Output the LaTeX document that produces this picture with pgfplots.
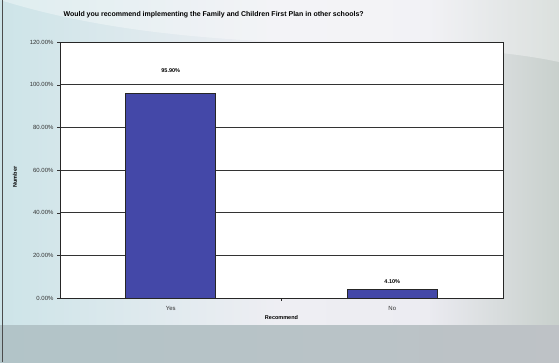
\documentclass[border=0pt]{standalone}
\usepackage{pgfplots}
\pgfplotsset{compat=1.18}
\usepackage{fontspec}
\setmainfont{Liberation Sans}
\definecolor{barblue}{RGB}{68,72,168}
\definecolor{bgleft}{RGB}{205,228,232}
\definecolor{bgmid}{RGB}{234,234,240}
\definecolor{bgright}{RGB}{200,208,204}
\definecolor{bandleft}{RGB}{178,196,200}
\definecolor{bandright}{RGB}{190,194,198}
\begin{document}
\begin{tikzpicture}[x=1pt,y=1pt]
\useasboundingbox (0,0) rectangle (559,362);
\shade[left color=bgleft, right color=bgmid, middle color=bgmid!80!white] (0,0) rectangle (559,362);
\shade[left color=bgmid, right color=bgright] (430,37) rectangle (559,362);
\fill[white, opacity=0.35] (0,362) .. controls (200,300) and (420,330) .. (559,300) -- (559,362) -- cycle;
\shade[left color=bandleft, right color=bandright] (0,0) rectangle (559,37);
\draw[black!70, line width=1pt] (2.5,0) -- (2.5,362);
\node[font=\fontsize{7}{8}\selectfont\bfseries, anchor=west] at (60,347) {Would you recommend implementing the Family and Children First Plan in other schools?};
\node[font=\fontsize{5.5}{6}\selectfont\bfseries, rotate=90] at (15,185) {Number};
\begin{axis}[
  at={(60pt,64pt)}, anchor=south west,
  width=443pt, height=256pt, scale only axis,
  axis background/.style={fill=white},
  xmin=-0.5, xmax=1.5, ymin=0, ymax=120,
  xtick={0,1}, xticklabels={Yes,No},
  xtick style={draw=none},
  xtick pos=bottom, ytick pos=left,
  ytick={0,20,40,60,80,100,120},
  yticklabel={\pgfmathprintnumber[fixed,fixed zerofill,precision=2]{\tick}\%},
  /pgf/number format/assume math mode=true,
  tick align=outside, major tick length=3pt,
  ytick style={black!80},
  ymajorgrids, grid style={black!80, line width=0.6pt},
  axis line style={black!85},
  ticklabel style={font=\fontsize{6}{7}\selectfont, text=black!80},
  xticklabel style={yshift=-2pt},
  xlabel={Recommend},
  xlabel style={font=\fontsize{5.5}{6}\selectfont\bfseries, yshift=2pt},
  ybar, bar width=90pt,
  clip=false,
]
\addplot[fill=barblue, draw=black!85, line width=0.6pt, bar shift=0pt,
  nodes near coords={\pgfmathprintnumber[fixed,fixed zerofill,precision=2]{\pgfplotspointmeta}\%},
  nodes near coords style={font=\fontsize{5.5}{6}\selectfont\bfseries, text=black, yshift=17pt}]
  coordinates {(0,95.9)};
\addplot[fill=barblue, draw=black!85, line width=0.6pt, bar shift=0pt,
  nodes near coords={\pgfmathprintnumber[fixed,fixed zerofill,precision=2]{\pgfplotspointmeta}\%},
  nodes near coords style={font=\fontsize{5.5}{6}\selectfont\bfseries, text=black, yshift=2pt}]
  coordinates {(1,4.1)};
\draw[black!85] (axis cs:0.5,0) -- ([yshift=-3pt]axis cs:0.5,0);
\end{axis}
\end{tikzpicture}
\end{document}
